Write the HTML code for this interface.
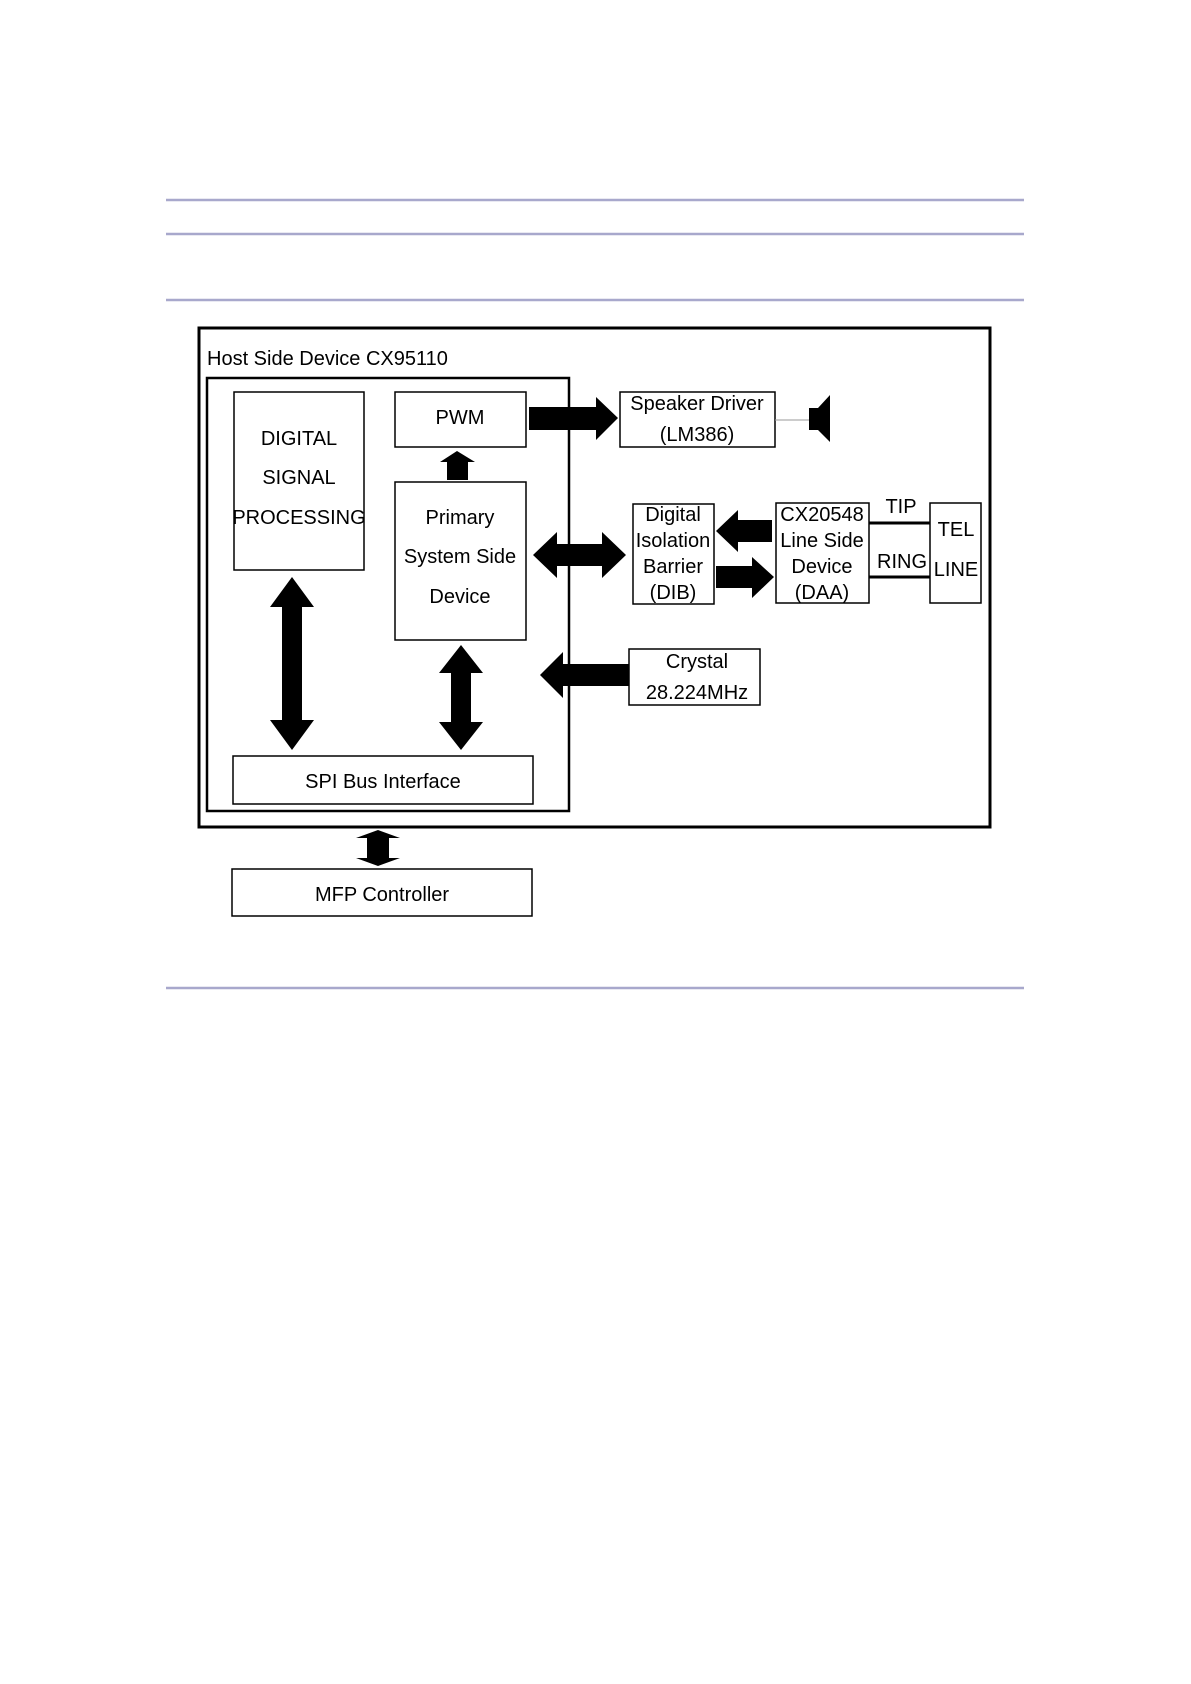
<!DOCTYPE html>
<html><head><meta charset="utf-8"><style>
html,body{margin:0;padding:0;background:#fff;}
svg{display:block;}
text{font-family:"Liberation Sans","NanumGothic",sans-serif;font-size:20px;fill:#000;dominant-baseline:central;}
</style></head><body>
<svg width="1191" height="1684" viewBox="0 0 1191 1684" xmlns="http://www.w3.org/2000/svg">
<g stroke="#a8a8cc" stroke-width="2.5">
<line x1="166" y1="200" x2="1024" y2="200"/>
<line x1="166" y1="234" x2="1024" y2="234"/>
<line x1="166" y1="300" x2="1024" y2="300"/>
<line x1="166" y1="988" x2="1024" y2="988"/>
</g>
<g fill="none" stroke="#000">
<rect x="199" y="328" width="791" height="499" stroke-width="3"/>
<rect x="207" y="378" width="362" height="433" stroke-width="2.5"/>
<rect x="234" y="392" width="130" height="178" stroke-width="1.5"/>
<rect x="395" y="392" width="131" height="55" stroke-width="1.5"/>
<rect x="395" y="482" width="131" height="158" stroke-width="1.5"/>
<rect x="233" y="756" width="300" height="48" stroke-width="1.5"/>
<rect x="232" y="869" width="300" height="47" stroke-width="1.5"/>
<rect x="620" y="392" width="155" height="55" stroke-width="1.5"/>
<rect x="633" y="504" width="81" height="100" stroke-width="1.5"/>
<rect x="776" y="503" width="93" height="100" stroke-width="1.5"/>
<rect x="930" y="503" width="51" height="100" stroke-width="1.5"/>
<rect x="629" y="649" width="131" height="56" stroke-width="1.5"/>
<line x1="869" y1="523" x2="930" y2="523" stroke-width="3"/>
<line x1="869" y1="577" x2="930" y2="577" stroke-width="3"/>
<line x1="775" y1="420" x2="809" y2="420" stroke="#999" stroke-width="1"/>
</g>
<g fill="#000">
<!-- speaker -->
<polygon points="809,408 818,408 830,395 830,442 818,430 809,430"/>
<!-- PWM -> speaker -->
<polygon points="529,407 596,407 596,397 618,418 596,440 596,430 529,430"/>
<!-- up arrow primary->PWM -->
<polygon points="447,480 447,462 440,462 457,451 475,462 468,462 468,480"/>
<!-- horizontal double primary<->DIB -->
<polygon points="533,555 557,532 557,544 602,544 602,532 626,555 602,578 602,566 557,566 557,578"/>
<!-- DIB <- DAA -->
<polygon points="772,520 738,520 738,510 716,531 738,552 738,542 772,542"/>
<!-- DIB -> DAA -->
<polygon points="716,566 752,566 752,557 774,577 752,598 752,588 716,588"/>
<!-- crystal -> -->
<polygon points="629,664 563,664 563,652 540,675 563,698 563,686 629,686"/>
<!-- DSP vertical double -->
<polygon points="292,577 314,607 302,607 302,720 314,720 292,750 270,720 282,720 282,607 270,607"/>
<!-- primary vertical double -->
<polygon points="461,645 483,673 471,673 471,722 483,722 461,750 439,722 451,722 451,673 439,673"/>
<!-- SPI-MFP -->
<polygon points="378,830 400,838 389,838 389,858 400,858 378,866 356,858 367,858 367,838 356,838"/>
</g>
<text x="207" y="359">Host Side Device CX95110</text>
<g text-anchor="middle">
<text x="299" y="439">DIGITAL</text>
<text x="299" y="478">SIGNAL</text>
<text x="299" y="518">PROCESSING</text>
<text x="460" y="418">PWM</text>
<text x="460" y="518">Primary</text>
<text x="460" y="557">System Side</text>
<text x="460" y="597">Device</text>
<text x="697" y="404">Speaker Driver</text>
<text x="697" y="435">(LM386)</text>
<text x="673" y="515">Digital</text>
<text x="673" y="541">Isolation</text>
<text x="673" y="567">Barrier</text>
<text x="673" y="593">(DIB)</text>
<text x="822" y="515">CX20548</text>
<text x="822" y="541">Line Side</text>
<text x="822" y="567">Device</text>
<text x="822" y="593">(DAA)</text>
<text x="901" y="507">TIP</text>
<text x="902" y="562">RING</text>
<text x="956" y="530">TEL</text>
<text x="956" y="570">LINE</text>
<text x="697" y="662">Crystal</text>
<text x="697" y="693">28.224MHz</text>
<text x="383" y="782">SPI Bus Interface</text>
<text x="382" y="895">MFP Controller</text>
</g>
</svg>
</body></html>
